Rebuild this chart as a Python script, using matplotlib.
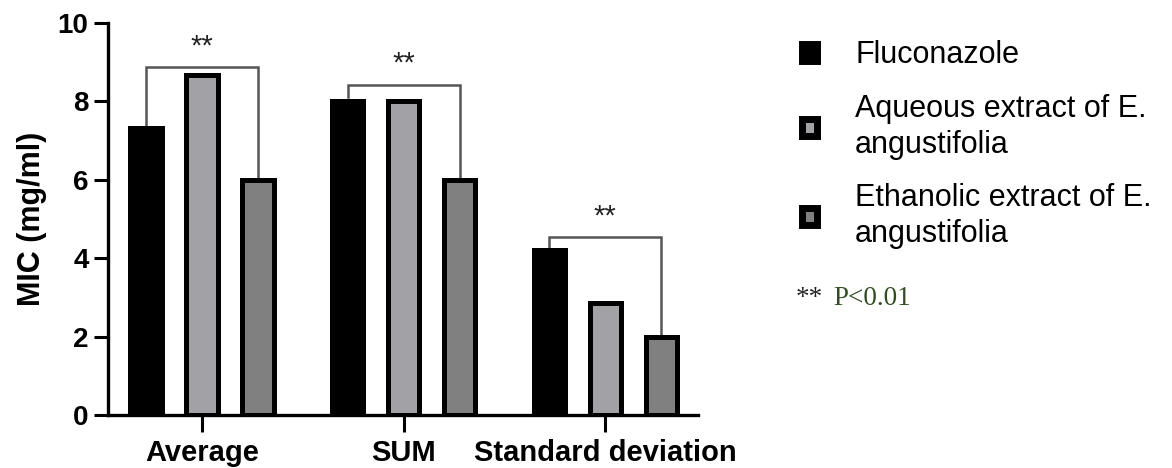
import matplotlib
matplotlib.use("Agg")
import matplotlib.pyplot as plt
from matplotlib.patches import Patch
import numpy as np

plt.rcParams['font.family'] = ['Liberation Sans', 'DejaVu Sans']

categories = ["Average", "SUM", "Standard deviation"]
series_names = ["Fluconazole", "Aqueous extract of E.\nangustifolia",
                "Ethanolic extract of E.\nangustifolia"]
fluconazole = [7.33, 8.0, 4.2]
aqueous = [8.67, 8.0, 2.85]
ethanolic = [6.0, 6.0, 2.0]
series = [fluconazole, aqueous, ethanolic]
colors = ["#000000", "#a2a2a6", "#808080"]

# significance brackets
bracket_y = [8.87, 8.42, 4.53]
left_leg_bottom = [7.33, 8.12, 4.26]
star_y = [9.05, 8.6, 4.71]

fig = plt.figure(figsize=(11.72, 4.68), dpi=100)
ax = fig.add_axes([0.0922, 0.1132, 0.5034, 0.8377])

x = np.arange(len(categories))
offset = 0.278
width = 0.155
for i, (vals, c) in enumerate(zip(series, colors)):
    ax.bar(x + (i - 1) * offset, vals, width=width, color=c, edgecolor="black",
           linewidth=3.6, zorder=3)

bc = "#555555"
for g in range(len(categories)):
    xl = x[g] - offset
    xr = x[g] + offset
    ax.plot([xl, xl, xr, xr], [left_leg_bottom[g], bracket_y[g], bracket_y[g], ethanolic[g]],
            color=bc, lw=1.8, zorder=2, solid_joinstyle='miter')
    ax.text(x[g], star_y[g], "**", ha="center", va="bottom", fontsize=21,
            color="#222222")

ax.set_xlim(-0.466, 2.46)
ax.set_ylim(0, 10)
ax.set_yticks([0, 2, 4, 6, 8, 10])
ax.set_xticks(x)
ax.set_xticklabels(categories, fontsize=21, fontweight="bold")
ax.tick_params(axis='y', labelsize=20, width=2.2, length=10, pad=4)
for lab in ax.get_yticklabels():
    lab.set_fontweight("bold")
ax.tick_params(axis='x', width=2.2, length=12, pad=5)
ax.set_ylabel("MIC (mg/ml)", fontsize=22, fontweight="bold", labelpad=8)
for s in ["top", "right"]:
    ax.spines[s].set_visible(False)
for s in ["left", "bottom"]:
    ax.spines[s].set_linewidth(2.4)

handles = [Patch(facecolor=c, edgecolor="black", linewidth=5) for c in colors]
leg = ax.legend(handles, series_names, loc="upper left", bbox_to_anchor=(0.684, 0.914),
                bbox_transform=fig.transFigure, frameon=False, fontsize=22,
                handlelength=0.5, handleheight=0.5, handletextpad=1.25,
                labelspacing=0.77, borderaxespad=0, borderpad=0)
for t in leg.get_texts():
    t.set_linespacing(1.25)

fig.text(0.679, 0.362, "**", fontsize=19.5, family="Liberation Serif", color="#222222",
         va="center")
fig.text(0.711, 0.362, "P<0.01", fontsize=19.5, family="Liberation Serif", color="#2f4f1f",
         va="center")

fig.savefig("out.png", dpi=100)
